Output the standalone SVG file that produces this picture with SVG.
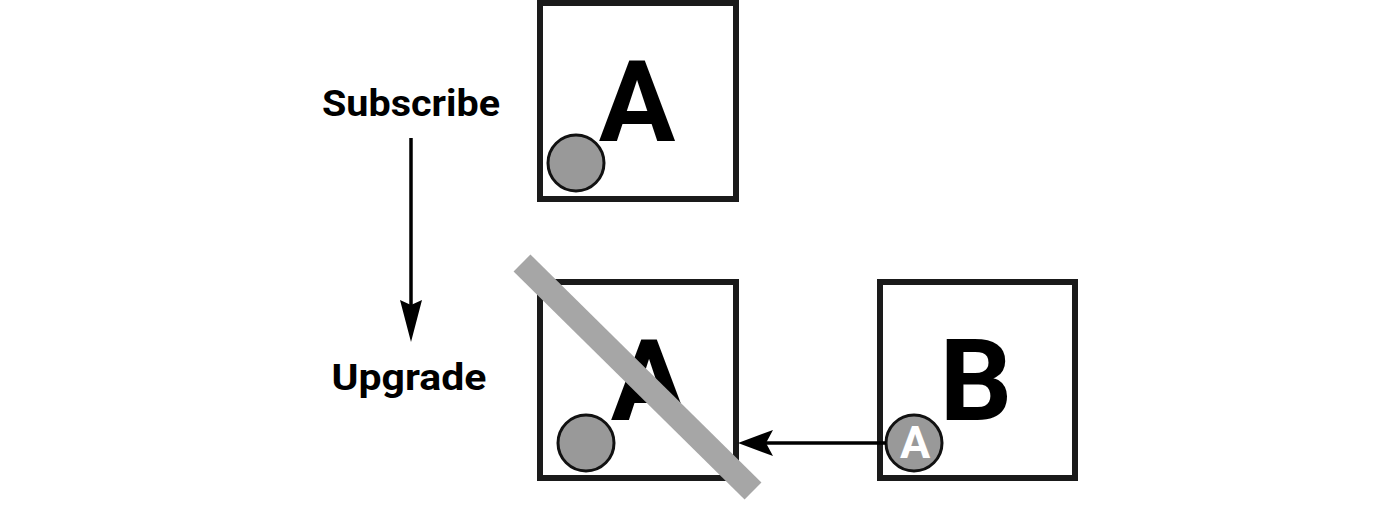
<svg xmlns="http://www.w3.org/2000/svg" width="1400" height="506" viewBox="0 0 1400 506">
  <style>
    .box { fill: #ffffff; stroke: #1a1a1a; stroke-width: 6; }
    .dot { fill: #999999; stroke: #111111; stroke-width: 3; }
    .big { font-family: Roboto, "Liberation Sans", sans-serif; font-weight: 700; font-size: 114px; fill: #000000; text-anchor: middle; }
    .label { font-family: Roboto, "Liberation Sans", sans-serif; font-weight: 700; font-size: 37px; fill: #000000; text-anchor: middle; }
    .small { font-family: Roboto, "Liberation Sans", sans-serif; font-weight: 700; font-size: 45px; fill: #ffffff; text-anchor: middle; }
    .conn { stroke: #000000; stroke-width: 3.5; fill: none; }
  </style>
  <defs>
    <marker id="headH" markerUnits="userSpaceOnUse" markerWidth="36" markerHeight="26" refX="7" refY="13" orient="auto">
      <path d="M0,0 L35,13 L0,26 L7,13 Z" fill="#000000"/>
    </marker>
    <marker id="headV" markerUnits="userSpaceOnUse" markerWidth="43" markerHeight="22" refX="5" refY="11" orient="auto">
      <path d="M0,0 L42,11 L0,22 L5,11 Z" fill="#000000"/>
    </marker>
  </defs>
  <rect width="1400" height="506" fill="#ffffff"/>

  <g id="label-subscribe">
    <text class="label" x="411" y="116" textLength="178" lengthAdjust="spacingAndGlyphs">Subscribe</text>
  </g>
  <g id="label-upgrade">
    <text class="label" x="409" y="390" textLength="155" lengthAdjust="spacingAndGlyphs">Upgrade</text>
  </g>

  <g id="node-a-top">
    <rect class="box" x="540" y="3" width="196" height="196"/>
    <text class="big" x="637" y="141">A</text>
    <circle class="dot" cx="576" cy="163" r="28"/>
  </g>

  <g id="node-a-bottom">
    <rect class="box" x="540" y="282" width="196" height="196"/>
    <text class="big" x="649" y="420">A</text>
    <circle class="dot" cx="586" cy="443" r="28"/>
    <line x1="522" y1="263" x2="753" y2="491" stroke="#a6a6a6" stroke-width="24"/>
  </g>

  <g id="node-b">
    <rect class="box" x="880" y="282" width="195" height="196"/>
    <text class="big" x="976" y="420">B</text>
    <circle class="dot" cx="914" cy="443" r="28"/>
    <text class="small" x="915" y="458">A</text>
  </g>

  <g id="connectors">
    <line class="conn" x1="411" y1="138" x2="411" y2="305" marker-end="url(#headV)"/>
    <line class="conn" x1="886" y1="443" x2="766" y2="443" marker-end="url(#headH)"/>
  </g>
</svg>
